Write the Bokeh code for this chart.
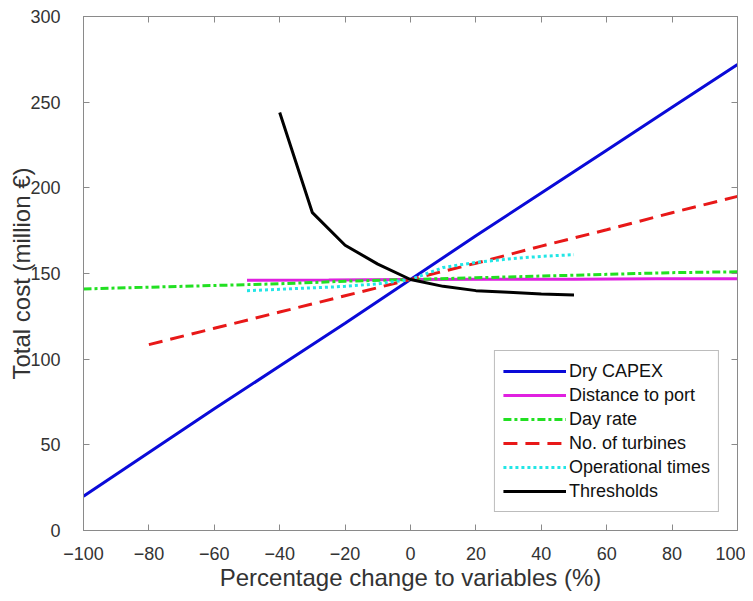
from bokeh.plotting import figure
from bokeh.models import Range1d, LinearAxis, FixedTicker, Legend, LegendItem
from bokeh.embed import file_html
from bokeh.resources import INLINE

# ---- data ----
capex_x = [-100, -80, -60, -40, -20, 0, 20, 40, 60, 80, 100]
capex_y = [20, 45.5, 71, 96, 121, 146.5, 172, 197, 222, 247, 272]

port_x = [-50, -25, 0, 25, 50, 75, 100]
port_y = [146, 146.2, 146.5, 146.6, 146.7, 146.9, 147]

day_x = [-100, -80, -60, -40, -20, 0, 20, 40, 60, 80, 100]
day_y = [141, 142, 143, 144, 145.5, 146.5, 147.5, 148.5, 149.5, 150.5, 151]

turb_x = [-80, -60, -40, -20, 0, 20, 40, 60, 80, 100]
turb_y = [108.5, 118, 127.5, 137, 146.5, 156, 166, 175.5, 185.5, 195]

oper_x = [-50, -40, -30, -20, -10, 0, 10, 20, 30, 40, 50]
oper_y = [140, 140.8, 141.6, 142.5, 144, 146.5, 153.5, 156.5, 158.5, 160, 161]

thr_x = [-40, -30, -20, -10, 0, 10, 20, 30, 40, 50]
thr_y = [244, 185.5, 166.5, 155.5, 146.5, 142.5, 140, 139, 138, 137.5]

x_ticks = [-100, -80, -60, -40, -20, 0, 20, 40, 60, 80, 100]
y_ticks = [0, 50, 100, 150, 200, 250, 300]

FONT = "Liberation Sans"
AX = "#8a8a8a"
TXT = "#333333"

p = figure(width=745, height=593, output_backend="svg", toolbar_location=None,
           x_range=Range1d(-100, 100), y_range=Range1d(0, 300),
           min_border_left=83, min_border_right=8, min_border_top=16, min_border_bottom=62)
p.xgrid.visible = False
p.ygrid.visible = False
p.outline_line_color = AX
p.background_fill_color = "white"
p.border_fill_color = "white"

p.xaxis.axis_label = "Percentage change to variables (%)"
p.yaxis.axis_label = "Total cost (million €)"
for ax in (p.xaxis[0], p.yaxis[0]):
    ax.axis_line_color = AX
    ax.major_tick_line_color = AX
    ax.minor_tick_line_color = None
    ax.major_tick_in = 6
    ax.major_tick_out = 0
    ax.major_label_text_font = FONT
    ax.major_label_text_font_size = "18px"
    ax.major_label_text_color = TXT
    ax.axis_label_text_font = FONT
    ax.axis_label_text_font_size = "24px"
    ax.axis_label_text_font_style = "normal"
    ax.axis_label_text_color = TXT
p.xaxis.ticker = FixedTicker(ticks=x_ticks)
p.yaxis.ticker = FixedTicker(ticks=y_ticks)
p.xaxis.major_label_standoff = 16
p.yaxis.major_label_standoff = 23
p.xaxis.axis_label_standoff = 1
p.yaxis.axis_label_standoff = -8

# box ticks on top and right (no labels)
for loc, tk in (("right", y_ticks), ("above", x_ticks)):
    a = LinearAxis(ticker=FixedTicker(ticks=tk))
    a.axis_line_color = AX
    a.major_tick_line_color = AX
    a.minor_tick_line_color = None
    a.major_tick_in = 6
    a.major_tick_out = 0
    a.major_label_overrides = {t: "" for t in tk}
    a.major_label_text_font_size = "1px"
    a.major_label_standoff = 0
    p.add_layout(a, loc)

r1 = p.line(capex_x, capex_y, line_color="#0a0ad8", line_width=3)
r2 = p.line(port_x, port_y, line_color="#e020e0", line_width=3)
r3 = p.line(day_x, day_y, line_color="#22e022", line_width=3, line_dash="8 3 3 3")
r4 = p.line(turb_x, turb_y, line_color="#e81818", line_width=3, line_dash="14 8")
r5 = p.line(oper_x, oper_y, line_color="#22e6e6", line_width=3, line_dash="3 3")
r6 = p.line(thr_x, thr_y, line_color="#000000", line_width=3)

legend = Legend(items=[
    LegendItem(label="Dry CAPEX", renderers=[r1]),
    LegendItem(label="Distance to port", renderers=[r2]),
    LegendItem(label="Day rate", renderers=[r3]),
    LegendItem(label="No. of turbines", renderers=[r4]),
    LegendItem(label="Operational times", renderers=[r5]),
    LegendItem(label="Thresholds", renderers=[r6]),
], location="bottom_right")
legend.margin = 18
legend.padding = 8
legend.spacing = 0
legend.glyph_width = 63
legend.glyph_height = 24
legend.label_height = 24
legend.label_standoff = 3
legend.label_text_font = FONT
legend.label_text_font_size = "18px"
legend.label_text_color = "#111111"
legend.border_line_color = "#7a7a7a"
legend.border_line_width = 1
legend.background_fill_color = "white"
legend.background_fill_alpha = 1
p.add_layout(legend, "center")

open("out.html", "w").write(file_html(p, INLINE))
